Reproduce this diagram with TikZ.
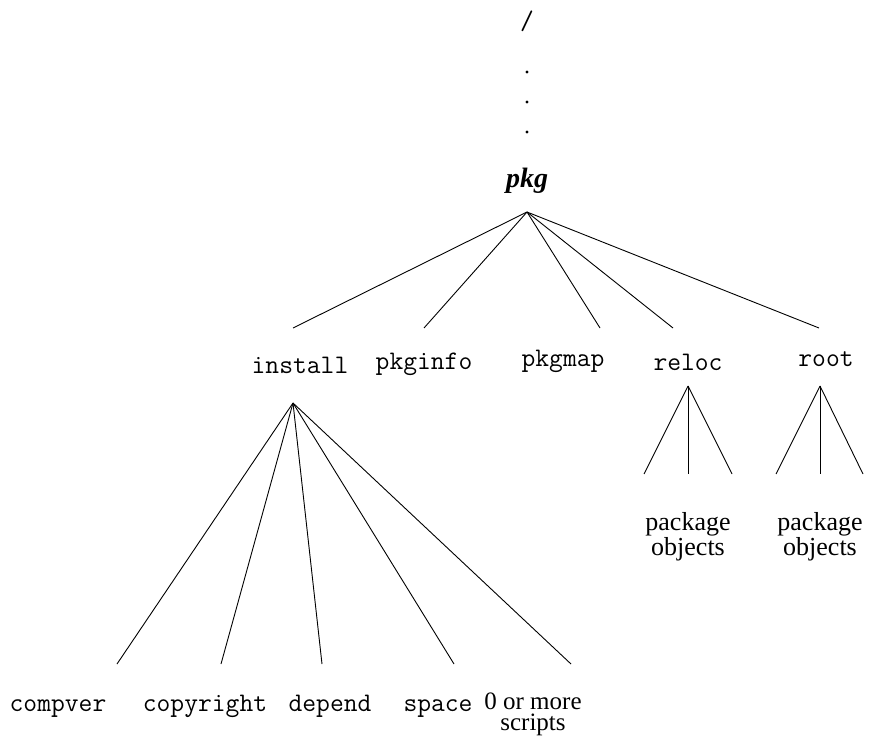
\documentclass[tikz,border=0pt]{standalone}
\usepackage{fontspec}
\setmainfont{Liberation Serif}
\begin{document}
\begin{tikzpicture}[x=1pt,y=-1pt,line width=0.9pt,
  mono/.style={font=\fontsize{26.8}{28}\selectfont\ttfamily,inner sep=0pt,anchor=base},
  serif/.style={font=\fontsize{26}{20}\selectfont,inner sep=0pt,align=center,anchor=base},
  dotnode/.style={circle,fill,inner sep=0pt,minimum size=3.4pt}]
\useasboundingbox (0,0) rectangle (877,738);
% root path
\node[mono] (slash) at (527,30) {/};
\node[dotnode] (d1) at (527,72) {};
\node[dotnode] (d2) at (527,102) {};
\node[dotnode] (d3) at (527,132) {};
\node[serif,font=\fontsize{28}{21}\selectfont\bfseries\itshape] (pkg) at (527,187) {pkg};
\coordinate (pkgA) at (527,212);
% level 2
\coordinate (eInstall) at (293,328);
\coordinate (ePkginfo) at (424,328);
\coordinate (ePkgmap) at (600,328);
\coordinate (eReloc) at (673,328);
\coordinate (eRoot) at (819,328);
\foreach \e in {eInstall,ePkginfo,ePkgmap,eReloc,eRoot} \draw (pkgA) -- (\e);
\node[mono] (install) at (300,373) {install};
\node[mono] (pkginfo) at (424,369) {pkginfo};
\node[mono] (pkgmap) at (563,366) {pkgmap};
\node[mono] (reloc) at (688,370) {reloc};
\node[mono] (root) at (826,366) {root};
% install subtree
\coordinate (instA) at (293,403);
\coordinate (eCompver) at (117,664);
\coordinate (eCopyright) at (221,664);
\coordinate (eDepend) at (322,664);
\coordinate (eSpace) at (454,664);
\coordinate (eScripts) at (571,664);
\foreach \e in {eCompver,eCopyright,eDepend,eSpace,eScripts} \draw (instA) -- (\e);
\node[mono] (compver) at (58,711) {compver};
\node[mono] (copyright) at (205,711) {copyright};
\node[mono] (depend) at (330,711) {depend};
\node[mono] (space) at (438,711) {space};
\node[serif,font=\fontsize{25}{20.5}\selectfont] (scripts) at (533,730) {0 or more\\scripts};
% reloc subtree
\coordinate (relA) at (688,386);
\coordinate (relL) at (644,474);
\coordinate (relM) at (688,474);
\coordinate (relR) at (732,474);
\foreach \e in {relL,relM,relR} \draw (relA) -- (\e);
\node[serif] (relobj) at (688,555) {package\\objects};
% root subtree
\coordinate (rootA) at (820,386);
\coordinate (rootL) at (776,474);
\coordinate (rootM) at (820,474);
\coordinate (rootR) at (863,474);
\foreach \e in {rootL,rootM,rootR} \draw (rootA) -- (\e);
\node[serif] (rootobj) at (820,555) {package\\objects};
\end{tikzpicture}
\end{document}
